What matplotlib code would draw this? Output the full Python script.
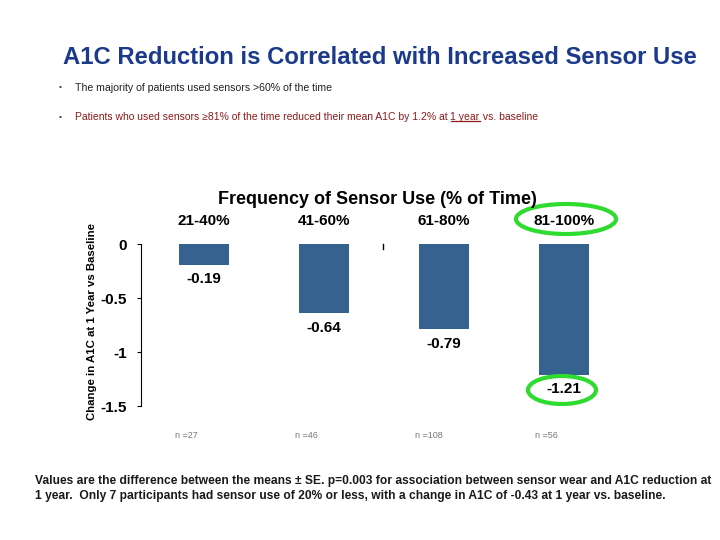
import matplotlib
matplotlib.use("Agg")
import matplotlib.pyplot as plt
import matplotlib.transforms as mtransforms
from matplotlib.patches import Ellipse
from matplotlib.lines import Line2D

categories = ["21-40%", "41-60%", "61-80%", "81-100%"]
values = [-0.19, -0.64, -0.79, -1.21]
value_labels = ["-0.19", "-0.64", "-0.79", "-1.21"]
n_labels = ["n =27", "n =46", "n =108", "n =56"]
yticks = [0, -0.5, -1, -1.5]
ytick_labels = ["0", "-0.5", "-1", "-1.5"]

W, H = 720, 540
fig = plt.figure(figsize=(7.2, 5.4), dpi=100)
plt.rcParams['font.family'] = ['Liberation Sans', 'DejaVu Sans']

def fx(px):
    return px / W

def fy(py):
    return 1 - py / H

# Main title
fig.text(fx(380), fy(57), "A1C Reduction is Correlated with Increased Sensor Use",
         ha="center", va="center", fontsize=17.2, fontweight="bold", color="#1B3A8C")

# Bullets
fig.text(fx(60), fy(88), "•", ha="center", va="center", fontsize=6, color="#333333")
fig.text(fx(75), fy(88), "The majority of patients used sensors >60% of the time",
         ha="left", va="center", fontsize=7.6, color="#222222")
red = "#8B1A1A"
fig.text(fx(60), fy(117), "•", ha="center", va="center", fontsize=6, color="#333333")
t1 = fig.text(fx(75), fy(117), "Patients who used sensors \u226581% of the time reduced their mean A1C by 1.2% at ",
              ha="left", va="center", fontsize=7.5, color=red)
fig.canvas.draw()
r = fig.canvas.get_renderer()
bb = t1.get_window_extent(r)
t2 = fig.text(bb.x1 / W, fy(117), "1 year", ha="left", va="center", fontsize=7.5, color=red)
fig.canvas.draw()
bb2 = t2.get_window_extent(r)
uy = (bb2.y0 + 1.5) / H
fig.add_artist(Line2D([bb2.x0 / W, bb2.x1 / W], [uy, uy],
                      color=red, lw=0.9, transform=fig.transFigure))
fig.text(bb2.x1 / W, fy(117), " vs. baseline", ha="left", va="center", fontsize=7.5, color=red)

# Axes
ax = fig.add_axes([fx(141), fy(406), fx(681) - fx(141), fy(244) - fy(406)])
x = list(range(len(categories)))
ax.bar(x, values, width=0.42, color="#35628F", edgecolor="none")
ax.set_xlim(-0.525, 3.975)
ax.set_ylim(-1.5, 0)
ax.set_yticks(yticks)
ax.set_yticklabels(ytick_labels, fontsize=11, fontweight="bold")
ax.tick_params(axis="y", length=3, width=0.8, pad=7)
ax.set_xticks([])
for s in ["top", "right", "bottom"]:
    ax.spines[s].set_visible(False)
ax.spines["left"].set_linewidth(0.8)
ax.set_ylabel("Change in A1C at 1 Year vs Baseline", fontsize=8.2, fontweight="bold")
ax.yaxis.set_label_coords((97 - 141) / 540, 0.52)

for xi, v, lab in zip(x, values, value_labels):
    ax.annotate(lab, (xi, v), xytext=(0, -10.5), textcoords="offset points",
                ha="center", va="center", fontsize=11, fontweight="bold", color="black")

trans = mtransforms.blended_transform_factory(ax.transData, fig.transFigure)
for xi, c in zip(x, categories):
    ax.text(xi, fy(221), c, transform=trans, ha="center", va="center",
            fontsize=11, fontweight="bold", clip_on=False)
for xi, n in zip(x, n_labels):
    ax.text(xi - 0.24, fy(435), n, transform=trans, ha="left", va="center",
            fontsize=6.5, color="#777777", clip_on=False)

fig.text(fx(377), fy(200), "Frequency of Sensor Use (% of Time)", ha="center", va="center",
         fontsize=13, fontweight="bold")

# stray small tick
fig.add_artist(Line2D([fx(383), fx(383)], [fy(244), fy(249)], color="black", lw=1,
                      transform=fig.transFigure))

# green ellipses
green = "#2EDB2E"
fig.add_artist(Ellipse((fx(566), fy(219)), fx(100), 30 / H, fill=False, edgecolor=green,
                       lw=3, transform=fig.transFigure))
fig.add_artist(Ellipse((fx(562), fy(390)), fx(68), 28 / H, fill=False, edgecolor=green,
                       lw=3, transform=fig.transFigure))

# footer
fig.text(fx(35), fy(481), "Values are the difference between the means \u00b1 SE. p=0.003 for association between sensor wear and A1C reduction at",
         ha="left", va="center", fontsize=8.65, fontweight="bold", color="#1a1a1a")
fig.text(fx(35), fy(496), "1 year.  Only 7 participants had sensor use of 20% or less, with a change in A1C of -0.43 at 1 year vs. baseline.",
         ha="left", va="center", fontsize=8.65, fontweight="bold", color="#1a1a1a")

fig.savefig("out.png", dpi=100)
